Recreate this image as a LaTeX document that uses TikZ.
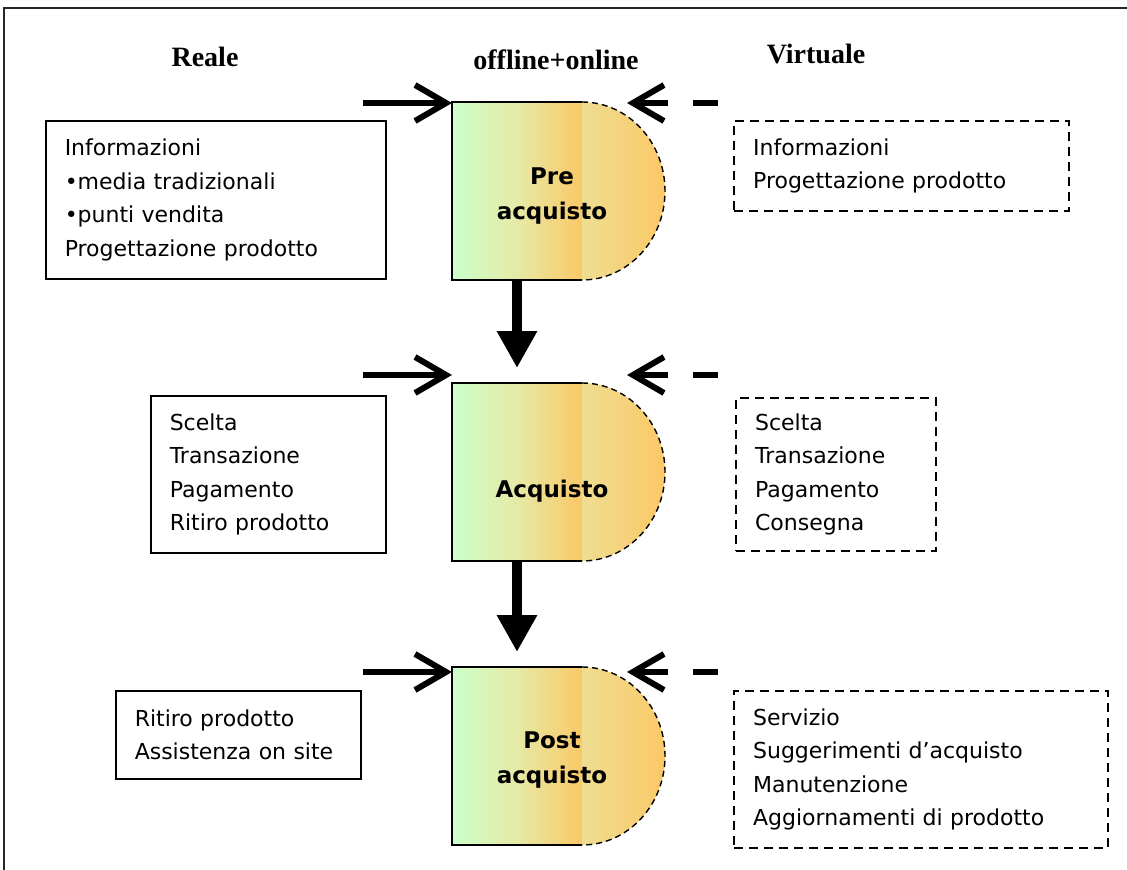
\documentclass[tikz,border=0pt]{standalone}
\usepackage{fontspec}
\usetikzlibrary{arrows.meta}
\newfontfamily\bodyfont{DejaVu Sans}
\newfontfamily\headfont{Liberation Serif}
\definecolor{stgreen}{RGB}{204,255,204}
\definecolor{stmid}{RGB}{230,234,166}
\definecolor{storange}{RGB}{251,200,102}
\definecolor{stpale}{RGB}{238,222,146}

\begin{document}
\begin{tikzpicture}[x=1pt,y=-1pt,
  head/.style={font=\headfont\fontsize{28}{30}\selectfont\bfseries,anchor=base},
  stage/.style={inner sep=0pt,outer sep=0pt,minimum width=130pt,minimum height=178pt,
    left color=stgreen,right color=storange,middle color=stmid},
  stagetext/.style={align=center,font=\bodyfont\fontsize{23}{35}\selectfont\bfseries},
  realbox/.style={draw,line width=1.5pt,anchor=north west,align=left,inner xsep=19pt,
    inner ysep=0pt,font=\bodyfont\fontsize{22}{33.5}\selectfont},
  virtbox/.style={realbox,line width=2.2pt,dash pattern=on 9pt off 6pt},
  realarrow/.style={line width=6pt,-{Straight Barb[length=31pt,width=36pt]}},
  virtarrow/.style={realarrow,dash pattern=on 25pt off 25pt on 80pt},
  flow/.style={line width=10pt,-{Triangle[length=37pt,width=38pt]},shorten >=15pt}]
  \useasboundingbox (0,0) rectangle (1127,870);
  \draw[black!85,line width=2pt] (4,872) -- (4,8) -- (1130,8);

  % column heads
  \node[head] (hreal) at (205,66) {Reale};
  \node[head] (honline) at (556,69) {offline+online};
  \node[head] (hvirt) at (816,63) {Virtuale};

  % the three stages
  \foreach \n/\y/\ty/\lbl in {pre/191/196/{Pre\\acquisto}, acq/472/491/{Acquisto},
                              post/756/760/{Post\\acquisto}} {
    \node[stage] (\n) at (517,\y) {};
    \shade[left color=stpale,right color=storange] (\n.north east)
      arc[start angle=90,end angle=-90,x radius=83pt,y radius=89pt] -- cycle;
    \draw[line width=1.4pt,dash pattern=on 6pt off 4pt] (\n.north east)
      arc[start angle=90,end angle=-90,x radius=83pt,y radius=89pt];
    \draw[line width=1.8pt] (\n.north east) -- (\n.north west) -- (\n.south west) -- (\n.south east);
    \node[stagetext] (\n-lbl) at (552,\ty) {\lbl};
  }

  % incoming arrows
  \foreach \n/\y in {pre/103, acq/375, post/672} {
    \coordinate (l\n) at (363,\y);
    \coordinate (r\n) at (718,\y);
    \coordinate (t\n) at (627,\y);
    \draw[realarrow] (l\n) -- (l\n -| \n.west);
    \draw[virtarrow] (r\n) -- (t\n);
  }

  \draw[flow] (pre.south) -- (acq.north);
  \draw[flow] (acq.south) -- (post.north);

  % real side
  \node[realbox,text width=302pt,minimum height=158pt] (rpre) at (45,120)
    {Informazioni\\•media tradizionali\\•punti vendita\\Progettazione prodotto};
  \node[realbox,text width=197pt,minimum height=157pt] (racq) at (150,395)
    {Scelta\\Transazione\\Pagamento\\Ritiro prodotto};
  \node[realbox,text width=207pt,minimum height=88pt] (rpost) at (115,690)
    {Ritiro prodotto\\Assistenza on site};

  % virtual side
  \node[virtbox,text width=297pt,minimum height=90pt] (vpre) at (733,120)
    {Informazioni\\Progettazione prodotto};
  \node[virtbox,text width=162pt,minimum height=153pt] (vacq) at (735,397)
    {Scelta\\Transazione\\Pagamento\\Consegna};
  \node[virtbox,text width=336pt,minimum height=157pt] (vpost) at (733,690)
    {Servizio\\Suggerimenti d’acquisto\\Manutenzione\\Aggiornamenti di prodotto};
\end{tikzpicture}
\end{document}
